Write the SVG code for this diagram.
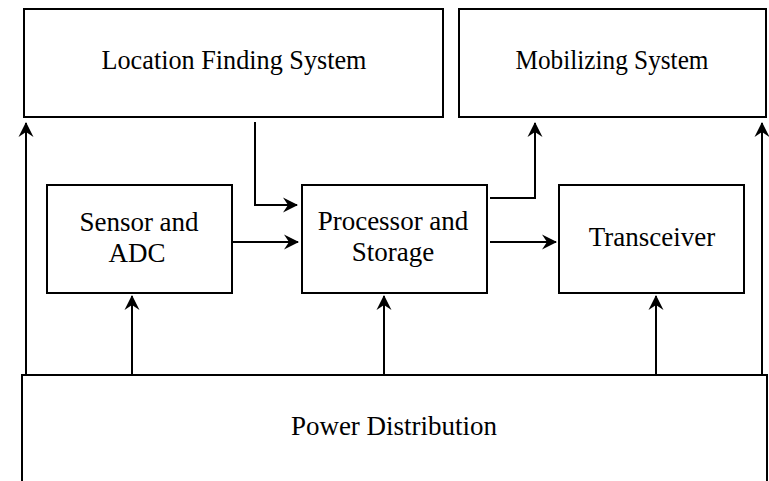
<svg xmlns="http://www.w3.org/2000/svg" width="769" height="481" viewBox="0 0 769 481">
<style>
.box{fill:#fff;stroke:#000;stroke-width:2}
.lbl{font-family:"Liberation Serif","Times New Roman",serif;font-size:27px;fill:#000;text-anchor:middle}
.wire{fill:none;stroke:#000;stroke-width:2}
</style>
<defs>
<marker id="ah" markerUnits="userSpaceOnUse" markerWidth="20" markerHeight="20" refX="0" refY="0" viewBox="-16 -10 18 20" orient="auto">
<path d="M1,0 L-14,-7.5 L-9,0 L-14,7.5 Z" fill="#000"/>
</marker>
</defs>
<rect width="769" height="481" fill="#fff"/>
<g id="location">
<rect class="box" x="24" y="9" width="419" height="108"/>
<text class="lbl" x="234" y="69" font-size="28" textLength="265" lengthAdjust="spacingAndGlyphs">Location Finding System</text>
</g>
<g id="mobilizing">
<rect class="box" x="459" y="9" width="307" height="108"/>
<text class="lbl" x="612" y="69" font-size="28" textLength="193" lengthAdjust="spacingAndGlyphs">Mobilizing System</text>
</g>
<g id="sensor">
<rect class="box" x="47" y="185" width="185" height="108"/>
<text class="lbl" x="139" y="231">Sensor and</text>
<text class="lbl" x="137" y="262">ADC</text>
</g>
<g id="processor">
<rect class="box" x="302" y="185" width="185" height="108"/>
<text class="lbl" x="393" y="230">Processor and</text>
<text class="lbl" x="393" y="261">Storage</text>
</g>
<g id="transceiver">
<rect class="box" x="559" y="185" width="185" height="108"/>
<text class="lbl" x="652" y="246">Transceiver</text>
</g>
<g id="power">
<rect class="box" x="22" y="375" width="745" height="130"/>
<text class="lbl" x="394" y="435">Power Distribution</text>
</g>
<g id="connectors">
<path class="wire" d="M255,122 V205 H297" marker-end="url(#ah)"/>
<path class="wire" d="M232,242 H298" marker-end="url(#ah)"/>
<path class="wire" d="M490,198 H535 V123" marker-end="url(#ah)"/>
<path class="wire" d="M490,242 H556" marker-end="url(#ah)"/>
<path class="wire" d="M26,375 V123" marker-end="url(#ah)"/>
<path class="wire" d="M762,375 V123" marker-end="url(#ah)"/>
<path class="wire" d="M132,375 V296" marker-end="url(#ah)"/>
<path class="wire" d="M384,375 V296" marker-end="url(#ah)"/>
<path class="wire" d="M656,375 V296" marker-end="url(#ah)"/>
</g>
</svg>
